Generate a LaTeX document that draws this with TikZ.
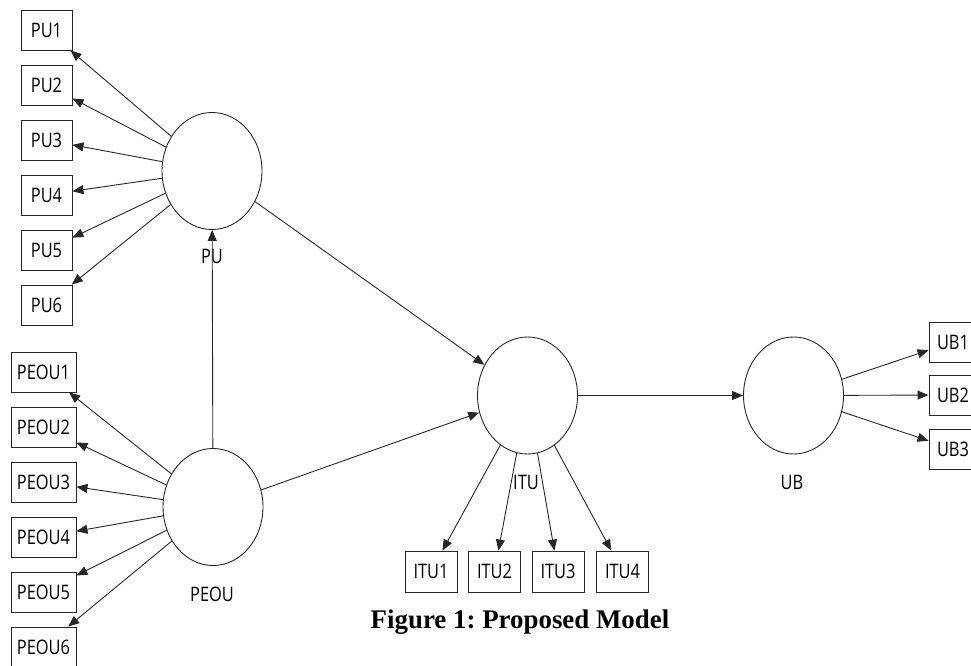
\documentclass[tikz,border=0pt]{standalone}
\usepackage{fontspec}
\newfontfamily\labfont[FakeStretch=0.82]{Open Sans}
\newfontfamily\capfont{Liberation Serif}
\usetikzlibrary{shapes.geometric,arrows.meta}
\begin{document}
\begin{tikzpicture}[x=1pt,y=-1pt,
  ind/.style={rectangle,draw=black!85,line width=0.9pt,minimum height=40pt,inner sep=0pt,
    font=\labfont\fontsize{20}{20}\selectfont,text height=14.3pt,text depth=0pt},
  lat/.style={ellipse,draw=black!85,line width=0.9pt,minimum width=100pt,minimum height=117pt,inner sep=0pt},
  lab/.style={font=\labfont\fontsize{20}{20}\selectfont,anchor=base,inner sep=0pt},
  arr/.style={draw=black!85,line width=0.9pt,-{Triangle[length=11pt,width=9pt]}}]
\useasboundingbox (0,0) rectangle (971,666);
\clip (0,0) rectangle (971,666);
% latent variables
\node[lat] (PU) at (212,171) {};
\node[lat] (PEOU) at (213,507) {};
\node[lat] (ITU) at (527.5,395.5) {};
\node[lat] (UB) at (793.5,395.5) {};
\node[lab] (lPU) at (212,263) {PU};
\node[lab] (lPEOU) at (212,601) {PEOU};
\node[lab] (lITU) at (526,489) {ITU};
\node[lab] (lUB) at (792,489) {UB};
% PU indicators
\foreach \i/\y in {1/30,2/85,3/140,4/195,5/250,6/305}{
  \node[ind,minimum width=51pt] (PU\i) at (46.5,\y) {PU\i};
  \draw[arr] (PU) -- (PU\i);
}
% PEOU indicators
\foreach \i/\y in {1/372,2/427,3/482,4/537,5/592,6/647}{
  \node[ind,minimum width=65pt] (PEOU\i) at (43.5,\y) {PEOU\i};
  \draw[arr] (PEOU) -- (PEOU\i);
}
% ITU indicators
\foreach \i/\x in {1/431,2/494.5,3/558,4/622.5}{
  \node[ind,minimum width=52pt,minimum height=41pt] (ITU\i) at (\x,571.5) {ITU\i};
  \draw[arr] (ITU) -- (ITU\i);
}
% UB indicators
\foreach \i/\y in {1/342,2/395,3/449}{
  \node[ind,minimum width=48pt] (UB\i) at (953,\y) {UB\i};
  \draw[arr] (UB) -- (UB\i);
}
% structural paths
\draw[arr] (PEOU) -- (PU);
\draw[arr] (PU) -- (ITU);
\draw[arr] (PEOU) -- (ITU);
\draw[arr] (ITU) -- (UB);
% caption
\node[anchor=base,inner sep=0pt,font=\capfont\bfseries\fontsize{26.9}{30}\selectfont] (cap) at (520,628) {Figure 1:\ Proposed Model};
\end{tikzpicture}
\end{document}
